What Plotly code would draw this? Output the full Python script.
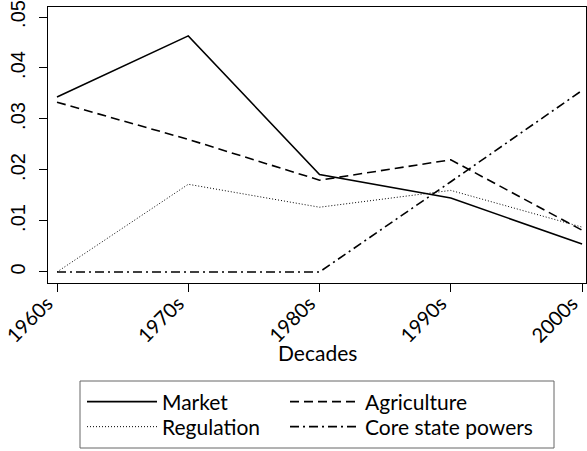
import plotly.graph_objects as go

decades = ["1960s", "1970s", "1980s", "1990s", "2000s"]
market = [0.0343, 0.0463, 0.0191, 0.0145, 0.0055]
agriculture = [0.0333, 0.0260, 0.0180, 0.0220, 0.0082]
regulation = [0.0, 0.0172, 0.0127, 0.0160, 0.0088]
core_state = [0.0, 0.0, 0.0, 0.0177, 0.0356]

y_ticks = [0, 0.01, 0.02, 0.03, 0.04, 0.05]
y_ticktext = ["0", ".01", ".02", ".03", ".04", ".05"]

# plot area in pixels: x 48..586, y 7..283
PL, PR, PT, PB = 48, 586, 7, 283
def px_x(v):
    return (v - PL) / (PR - PL)
def px_y(v):
    return (PB - v) / (PB - PT)

fnt = "Lato, Open Sans, sans-serif"
series = [
    ("Market", market, "solid", 1.6, "legend", 82, 402),
    ("Agriculture", agriculture, "9px,5px", 1.6, "legend2", 285, 402),
    ("Regulation", regulation, "1px,2px", 1.0, "legend3", 82, 427),
    ("Core state powers", core_state, "9px,4px,2px,4px", 1.6, "legend4", 285, 427),
]

fig = go.Figure()
legend_layouts = {}
for name, vals, dash, w, leg, lx, ly in series:
    fig.add_trace(go.Scatter(
        x=list(range(len(decades))), y=vals, name=name, mode="lines",
        line=dict(color="#000000", width=w, dash=dash), legend=leg,
    ))
    legend_layouts[leg] = dict(
        x=px_x(lx), xanchor="left", y=px_y(ly), yanchor="middle",
        bgcolor="rgba(0,0,0,0)", borderwidth=0,
        font=dict(size=21, family=fnt), itemwidth=70,
    )

fig.update_layout(
    width=587, height=451,
    margin=dict(l=PL, r=587 - PR, t=PT, b=451 - PB, autoexpand=False),
    paper_bgcolor="white", plot_bgcolor="white",
    font=dict(family=fnt, color="black"),
    showlegend=True,
    xaxis=dict(
        range=[-0.0686, 4.03],
        tickmode="array", tickvals=list(range(len(decades))), ticktext=decades,
        tickangle=-45, ticks="outside", ticklen=8, tickcolor="black",
        ticklabelstandoff=-8, ticklabelshift=-10, ticklabeloverflow="allow",
        tickfont=dict(size=20, family=fnt),
        showgrid=False, zeroline=False,
        showline=True, linecolor="black", linewidth=1, mirror=True,
    ),
    yaxis=dict(
        range=[-0.00216, 0.05196],
        tickmode="array", tickvals=y_ticks, ticktext=y_ticktext,
        tickangle=-90, ticks="outside", ticklen=8, tickcolor="black",
        ticklabelstandoff=6,
        tickfont=dict(size=20, family="Liberation Sans, Arial, sans-serif"),
        showgrid=False, zeroline=False,
        showline=True, linecolor="black", linewidth=1, mirror=True,
    ),
    annotations=[dict(
        text="Decades", xref="paper", yref="paper", x=0.5, y=px_y(352),
        xanchor="center", yanchor="middle", showarrow=False,
        font=dict(size=21, family=fnt),
    )],
    shapes=[dict(
        type="rect", xref="paper", yref="paper",
        x0=px_x(80), x1=px_x(554), y0=px_y(381), y1=px_y(448),
        line=dict(color="#666666", width=1), fillcolor="rgba(0,0,0,0)",
    )],
    **legend_layouts,
)

fig.write_html(
    "out.html",
    config={"displayModeBar": False},
    post_script="document.body.style.margin='0px';document.body.style.overflow='hidden';",
)
